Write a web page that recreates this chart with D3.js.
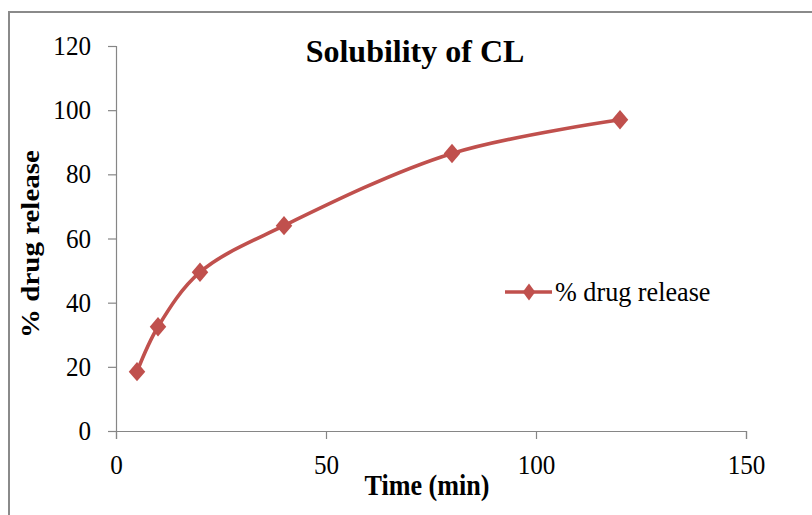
<!DOCTYPE html>
<html>
<head>
<meta charset="utf-8">
<script src="https://cdn.jsdelivr.net/npm/d3@7"></script>
<style>
  body { margin: 0; background: #fff; }
  svg text { font-family: "Liberation Serif", "Times New Roman", serif; fill: #000; }
</style>
</head>
<body>
<svg id="chart" width="812" height="515"></svg>
<script>
// data
var timeMin = [5, 10, 20, 40, 80, 120];
var drugRelease = [18.5, 32.5, 49.5, 64, 86.5, 97];
var xTicks = [0, 50, 100, 150];
var yTicks = [0, 20, 40, 60, 80, 100, 120];
var seriesName = "% drug release";

var svg = d3.select("#chart");
var red = "#c0504d", grey = "#868686";

// the source picture is squeezed sideways, so text gets a horizontal scale
function squeeze(sel, sx) {
    sel.each(function () {
        var t = d3.select(this);
        var x0 = +t.attr("x") || 0;
        t.attr("x", x0 / sx).attr("transform", "scale(" + sx + ",1)");
    });
}

// outer frame (only left and top edges show)
svg.append("rect")
    .attr("x", 9).attr("y", 12)
    .attr("width", 900).attr("height", 600)
    .attr("fill", "none")
    .attr("stroke", "#8a8a8a")
    .attr("stroke-width", 2);

var x = d3.scaleLinear().domain([0, 150]).range([116, 746]);
var y = d3.scaleLinear().domain([0, 120]).range([431, 46]);

// axes
var xAxis = svg.append("g")
    .attr("transform", "translate(0,431)")
    .call(d3.axisBottom(x).tickValues(xTicks).tickSize(8).tickSizeOuter(8).tickPadding(16));
var yAxis = svg.append("g")
    .attr("transform", "translate(116,0)")
    .call(d3.axisLeft(y).tickValues(yTicks).tickSize(8).tickSizeOuter(8).tickPadding(17));

[xAxis, yAxis].forEach(function (a) {
    a.attr("font-family", null);
    a.select(".domain").attr("stroke", grey).attr("stroke-width", 1.2);
    a.selectAll(".tick line").attr("stroke", grey).attr("stroke-width", 1.2);
    a.selectAll(".tick text")
        .attr("font-size", "27px")
        .attr("fill", "#000");
    squeeze(a.selectAll(".tick text"), 0.93);
});

// the series
var pts = timeMin.map(function (t, i) { return [t, drugRelease[i]]; });
var line = d3.line()
    .x(function (d) { return x(d[0]); })
    .y(function (d) { return y(d[1]); })
    .curve(d3.curveCatmullRom.alpha(0.5));

svg.append("path")
    .datum(pts)
    .attr("d", line)
    .attr("fill", "none")
    .attr("stroke", red)
    .attr("stroke-width", 3.6);

var diamond = d3.symbol().type(d3.symbolDiamond2).size(240);
svg.selectAll(".pt")
    .data(pts)
    .enter().append("path")
    .attr("class", "pt")
    .attr("transform", function (d) {
        return "translate(" + x(d[0]) + "," + y(d[1]) + ") scale(0.85,1)";
    })
    .attr("d", diamond)
    .attr("fill", red);

// title and axis names
svg.append("text")
    .attr("x", 415).attr("y", 62)
    .attr("text-anchor", "middle")
    .attr("font-size", "32px")
    .attr("font-weight", "bold")
    .text("Solubility of CL");

var xName = svg.append("text")
    .attr("x", 427).attr("y", 495)
    .attr("text-anchor", "middle")
    .attr("font-size", "30px")
    .attr("font-weight", "bold")
    .text("Time (min)");
squeeze(xName, 0.87);

svg.append("text")
    .attr("transform", "translate(39,244) scale(0.88,1) rotate(-90)")
    .attr("text-anchor", "middle")
    .attr("font-size", "29px")
    .attr("font-weight", "bold")
    .text("% drug release");

// legend
var lg = svg.append("g").attr("transform", "translate(505,292)");
lg.append("line")
    .attr("x1", 0).attr("x2", 47)
    .attr("stroke", red).attr("stroke-width", 3.6);
lg.append("path")
    .attr("transform", "translate(24,0) scale(0.75,1)")
    .attr("d", d3.symbol().type(d3.symbolDiamond2).size(180))
    .attr("fill", red);
var lgText = lg.append("text")
    .attr("x", 50).attr("y", 9)
    .attr("font-size", "27px")
    .text(seriesName);
squeeze(lgText, 0.97);
</script>
</body>
</html>
